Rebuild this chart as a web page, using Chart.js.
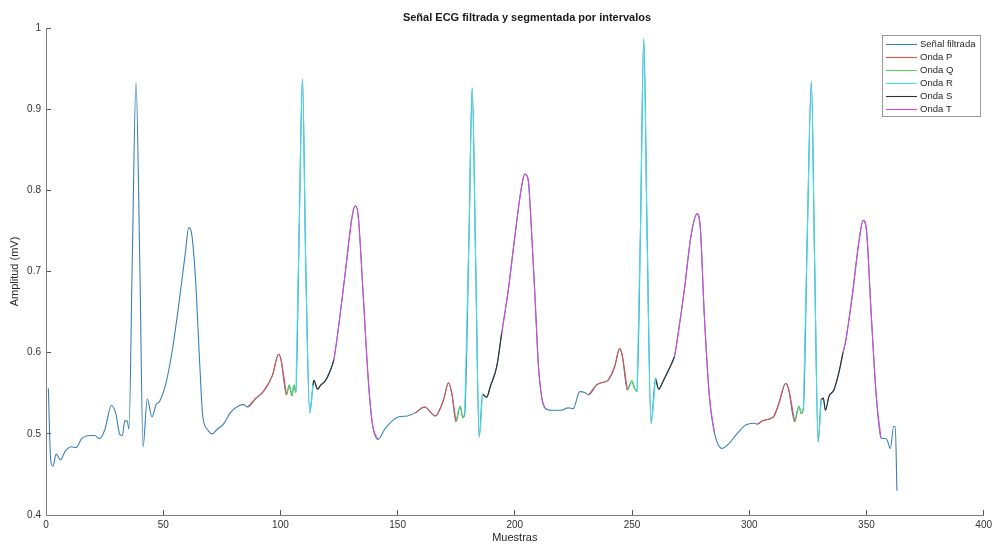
<!DOCTYPE html>
<html>
<head>
<meta charset="utf-8">
<script src="https://cdn.jsdelivr.net/npm/chart.js@4.4.1/dist/chart.umd.min.js"></script>
<style>
html,body{margin:0;padding:0;background:#ffffff;}
#wrap{width:1001px;height:545px;position:relative;}
</style>
</head>
<body>
<div id="wrap"><canvas id="c" width="1001" height="545"></canvas></div>
<script>
// ---- Data ----
const sampleX = [1,2,3,4.3,6.2,8.1,10.9,12.8,15.2,18.7,20.8,22.7,25.1,27.9,29.8,31.5,32.6,33.6,34.6,35.4,36.8,38.4,40,41.4,43.2,45.2,47,48.5,51.3,54.1,56.9,59.4,60.9,62.1,63.8,65.5,66.9,69,70.8,73.2,75.7,78.9,82.5,84.2,
  86,89.6,92.7,96.6,99.2,100.2,102.6,103.8,104.9,105.8,106.6,108,109.4,110.8,112.5,113.9,114.3,115.8,117.2,119.3,121.4,122.8,125,127.8,130.6,132,133.2,135.2,137.5,139.2,141.6,
  144.8,150.5,154,157.6,161.5,166.1,169.6,171.7,173.1,174.9,176.7,177.8,178.6,180.5,181.8,183.3,184.8,186.2,188,189.5,192.3,194.4,197.2,200,202.9,204.3,205.7,207.1,208.6,210,211.4,212.8,
  215.6,219.9,222.7,224.9,227.7,229.8,231.5,234.8,236.9,239.7,242.6,244.7,245.8,248,249.9,251.1,252.1,253.6,255,256.4,258.1,260,261.4,263.1,266,268.1,269.5,272.3,275.1,277.7,279.1,280.8,283,285.1,
  288.4,291,295,298.5,302.1,303.5,305.6,309.2,310.6,312.7,315.5,316.7,319.4,321.2,322.2,323.1,324.8,326.5,327.9,329.4,330.7,331.6,332.5,334,336.1,338.2,340,341,343.9,346.7,348.6,350,352,354.2,356.2,
  358.5,360.2,361.6,362.3,363];
const signalY = [0.556,0.468,0.460,0.475,0.468,0.478,0.484,0.483,0.494,0.498,0.498,0.494,0.505,0.535,0.525,0.499,0.498,0.516,0.516,0.506,0.714,0.933,0.714,0.484,0.543,0.521,0.536,0.540,0.564,0.607,0.665,0.722,0.754,0.747,0.690,0.591,0.521,0.505,0.500,0.506,0.512,0.527,0.535,0.536,
  0.533,0.544,0.552,0.572,0.598,0.592,0.548,0.560,0.547,0.560,0.551,0.751,0.937,0.710,0.526,0.560,0.566,0.555,0.560,0.566,0.579,0.591,0.636,0.702,0.768,0.781,0.768,0.677,0.566,0.513,0.493,
  0.507,0.521,0.522,0.526,0.533,0.522,0.542,0.563,0.550,0.515,0.534,0.520,0.524,0.751,0.926,0.710,0.496,0.549,0.545,0.558,0.583,0.624,0.677,0.743,0.805,0.820,0.813,0.751,0.669,0.587,0.546,0.532,
  0.529,0.529,0.532,0.531,0.552,0.551,0.548,0.560,0.563,0.566,0.583,0.605,0.597,0.554,0.565,0.556,0.552,0.751,0.987,0.751,0.513,0.568,0.555,0.564,0.581,0.595,0.620,0.677,0.743,0.771,0.755,0.648,0.546,0.502,
  0.482,0.487,0.501,0.511,0.513,0.512,0.516,0.519,0.522,0.538,0.562,0.556,0.515,0.534,0.525,0.531,0.750,0.934,0.710,0.490,0.542,0.544,0.529,0.546,0.554,0.575,0.600,0.612,0.669,0.735,0.763,0.751,0.649,0.546,0.495,
  0.494,0.482,0.509,0.509,0.430];

// Wave segments (sample ranges)
const ondaP = [[86,102.6],[157.6,174.9],[231.5,248],[303.5,319.4]];
const ondaQ = [[102.6,106.6],[174.9,178.6],[248,252.1],[319.4,323.1]];
const ondaR = [[106.6,113.9],[178.6,186.2],[252.1,260],[323.1,330.7]];
const ondaS = [[113.9,122.8],[186.2,194.4],[260,268.1],[330.7,340]];
const ondaT = [[122.8,141.6],[194.4,212.8],[268.1,285.1],[340,356.2]];

const seriesLabels = ['Señal filtrada','Onda P','Onda Q','Onda R','Onda S','Onda T'];
const seriesColors = ['#3a80b5','#e0524a','#58d458','#3fe0e8','#303030','#d64ad6'];

const xTickValues = [0,50,100,150,200,250,300,350,400];
const xTickLabels = ['0','50','100','150','200','250','300','350','400'];
const yTickValues = [0.4,0.5,0.6,0.7,0.8,0.9,1];
const yTickLabels = ['0.4','0.5','0.6','0.7','0.8','0.9','1'];

const chartTitle = 'Señal ECG filtrada y segmentada por intervalos';
const xTitle = 'Muestras';
const yTitle = 'Amplitud (mV)';

// ---- Build datasets ----
function fullSignal(){ return sampleX.map((x,i)=>({x:x,y:signalY[i]})); }
function segment(ranges){
  const out=[];
  ranges.forEach((r,k)=>{
    if(k>0) out.push({x:(ranges[k-1][1]+r[0])/2,y:null});
    sampleX.forEach((x,i)=>{ if(x>=r[0]-1e-9 && x<=r[1]+1e-9) out.push({x:x,y:signalY[i]}); });
  });
  return out;
}
const segData = [fullSignal(), segment(ondaP), segment(ondaQ), segment(ondaR), segment(ondaS), segment(ondaT)];

const datasets = segData.map((d,i)=>({
  label: seriesLabels[i],
  data: d,
  borderColor: seriesColors[i],
  backgroundColor: seriesColors[i],
  borderWidth: 1.1,
  pointRadius: 0,
  pointHoverRadius: 0,
  fill: false,
  spanGaps: false,
  cubicInterpolationMode: 'monotone',
  order: i===0 ? 1 : 0
}));

const FONT = "'Liberation Sans', Arial, Helvetica, sans-serif";

const boxLegend = {
  id: 'boxLegend',
  afterLayout(chart){
    if (chart.titleBlock){ chart.titleBlock.left = 53; chart.titleBlock.right = 1001; }
  },
  afterDraw(chart){
    const ctx = chart.ctx, ca = chart.chartArea;
    ctx.save();
    ctx.font = '9.5px ' + FONT;
    let maxW = 0;
    chart.data.datasets.forEach(ds=>{ maxW = Math.max(maxW, ctx.measureText(ds.label).width); });
    const w = Math.round(38 + maxW + 5);
    const x0 = Math.round(ca.right - 4 - w), y0 = Math.round(ca.top + 7), rowH = 13, n = chart.data.datasets.length;
    const h = n*rowH + 3;
    ctx.fillStyle = '#ffffff';
    ctx.fillRect(x0, y0, w, h);
    ctx.strokeStyle = '#9a9a9a';
    ctx.lineWidth = 1;
    ctx.strokeRect(x0+0.5, y0+0.5, w, h);
    ctx.textBaseline = 'middle';
    ctx.textAlign = 'left';
    chart.data.datasets.forEach((ds,i)=>{
      const yy = y0 + 9 + i*rowH;
      ctx.strokeStyle = ds.borderColor;
      ctx.lineWidth = 1.1;
      ctx.beginPath();
      ctx.moveTo(x0+4, yy+0.5);
      ctx.lineTo(x0+35, yy+0.5);
      ctx.stroke();
      ctx.fillStyle = '#262626';
      ctx.fillText(ds.label, x0+38, yy);
    });
    ctx.restore();
  }
};

new Chart(document.getElementById('c'), {
  type: 'line',
  data: { datasets: datasets },
  plugins: [boxLegend],
  options: {
    responsive: false,
    animation: false,
    events: [],
    layout: { padding: { left: 0, right: 14, top: 0, bottom: 0 } },
    plugins: {
      legend: { display: false },
      tooltip: { enabled: false },
      title: {
        display: true,
        text: chartTitle,
        color: '#1a1a1a',
        font: { family: FONT, size: 11, weight: 'bold', lineHeight: 1.2 },
        padding: { top: 11.4, bottom: 3.4 }
      }
    },
    scales: {
      x: {
        type: 'linear',
        min: 0, max: 400,
        afterBuildTicks: (s)=>{ s.ticks = xTickValues.map(v=>({value:v})); },
        afterFit: (s)=>{ s.height = 30; },
        ticks: {
          autoSkip: false,
          maxRotation: 0,
          padding: 9,
          color: '#333333',
          font: { family: FONT, size: 10 },
          callback: (v)=>{ const i = xTickValues.indexOf(v); return i>=0 ? xTickLabels[i] : ''; }
        },
        grid: { display: true, drawOnChartArea: false, drawTicks: true, tickLength: -5, color: '#555555', lineWidth: 1 },
        border: { display: true, color: '#808080', width: 1 },
        title: { display: true, text: xTitle, color: '#262626', font: { family: FONT, size: 11 }, padding: { top: 0, bottom: 0 } }
      },
      y: {
        type: 'linear',
        min: 0.4, max: 1,
        afterBuildTicks: (s)=>{ s.ticks = yTickValues.map(v=>({value:v})); },
        afterFit: (s)=>{ s.width = 46; },
        ticks: {
          autoSkip: false,
          padding: 10,
          color: '#333333',
          font: { family: FONT, size: 10 },
          callback: (v)=>{ const i = yTickValues.indexOf(v); return i>=0 ? yTickLabels[i] : ''; }
        },
        grid: { display: true, drawOnChartArea: false, drawTicks: true, tickLength: -5, color: '#555555', lineWidth: 1 },
        border: { display: true, color: '#808080', width: 1 },
        title: { display: true, text: yTitle, color: '#262626', font: { family: FONT, size: 11 }, padding: { top: 8, bottom: 0 } }
      }
    }
  }
});
</script>
</body>
</html>
